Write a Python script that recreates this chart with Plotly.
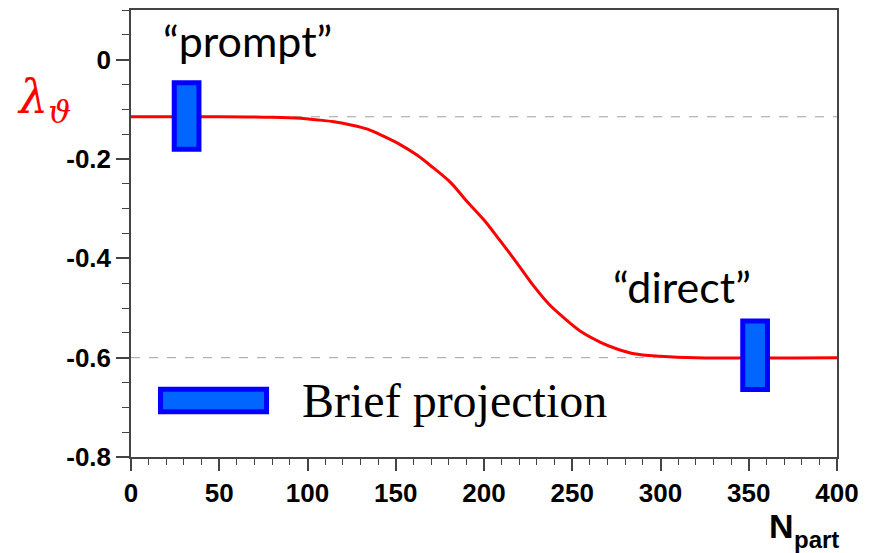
import plotly.graph_objects as go

# ---- data ----
npart = [0, 50, 80, 96, 105, 115, 124, 134, 143, 152, 162, 171, 181, 190, 200,
         209, 219, 228, 237, 247, 256, 266, 275, 285, 300, 320, 400]
lam = [-0.115, -0.115, -0.116, -0.118, -0.121, -0.125, -0.131, -0.140, -0.154,
       -0.170, -0.192, -0.217, -0.247, -0.284, -0.323, -0.364, -0.411, -0.455,
       -0.493, -0.525, -0.550, -0.569, -0.582, -0.592, -0.597, -0.600, -0.600]

ref_levels = [-0.115, -0.6]          # dashed reference lines
x_range = [0, 400]

box_labels = ["\u201cprompt\u201d", "\u201cdirect\u201d"]
box_x = [31.5, 353.6]                 # centre in Npart
box_halfw = [7.0, 7.0]
box_y = [-0.1135, -0.595]             # centre in lambda
box_halfh = [0.067, 0.069]

x_ticks = [0, 50, 100, 150, 200, 250, 300, 350, 400]
y_ticks = [0, -0.2, -0.4, -0.6, -0.8]
y_ticklabels = ["0", "-0.2", "-0.4", "-0.6", "-0.8"]

legend_text = "Brief projection"

BLUE_LINE = "#0000ff"
BLUE_FILL = "#0066ff"

fig = go.Figure()

for lvl in ref_levels:
    fig.add_trace(go.Scatter(x=x_range, y=[lvl, lvl], mode="lines",
                             line=dict(color="#a0a0a0", width=1, dash="dash"),
                             hoverinfo="skip", showlegend=False))

fig.add_trace(go.Scatter(x=npart, y=lam, mode="lines",
                         line=dict(color="#ff0000", width=3, shape="spline", smoothing=1.0),
                         showlegend=False))

shapes = []
for cx, hw, cy, hh in zip(box_x, box_halfw, box_y, box_halfh):
    shapes.append(dict(type="rect", xref="x", yref="y",
                       x0=cx - hw, x1=cx + hw, y0=cy - hh, y1=cy + hh,
                       line=dict(color=BLUE_LINE, width=5), fillcolor=BLUE_FILL,
                       layer="above"))
# legend key
shapes.append(dict(type="rect", xref="x", yref="y", x0=16.7, x1=76.8,
                   y0=-0.709, y1=-0.6637,
                   line=dict(color=BLUE_LINE, width=5), fillcolor=BLUE_FILL))

annotations = [
    dict(x=66.0, y=0.038, xref="x", yref="y", text=box_labels[0], showarrow=False,
         font=dict(family="Lato", size=43, color="black"), xanchor="center", yanchor="middle"),
    dict(x=312.0, y=-0.456, xref="x", yref="y", text=box_labels[1], showarrow=False,
         font=dict(family="Lato", size=43, color="black"), xanchor="center", yanchor="middle"),
    dict(x=95.5, y=-0.686, xref="x", yref="y", text=legend_text, showarrow=False,
         font=dict(family="Liberation Serif", size=48, color="black"),
         xanchor="left", yanchor="middle"),
    dict(x=-0.165, y=-0.083, xref="paper", yref="y", text="<i>\u03bb<sub>\u03d1</sub></i>",
         showarrow=False, font=dict(family="DejaVu Serif", size=46, color="#ff0000"),
         xanchor="left", yanchor="middle"),
    dict(x=0.9008, y=-0.1537, xref="paper", yref="paper", text="N", showarrow=False,
         font=dict(family="Liberation Sans", size=34, color="black", weight="bold"),
         xanchor="left", yanchor="middle"),
    dict(x=0.9363, y=-0.184, xref="paper", yref="paper", text="part", showarrow=False,
         font=dict(family="Liberation Sans", size=24, color="black", weight="bold"),
         xanchor="left", yanchor="middle"),
]

fig.update_layout(
    width=872, height=553,
    margin=dict(l=131, r=35, t=8, b=96),
    paper_bgcolor="white", plot_bgcolor="white",
    shapes=shapes, annotations=annotations,
    showlegend=False,
)

axis_common = dict(showgrid=False, zeroline=False, showline=True, mirror=True,
                   linecolor="#444444", linewidth=1.5, ticks="outside",
                   tickcolor="#444444", tickwidth=1.5,
                   tickfont=dict(family="Liberation Sans", size=26, color="black", weight="bold"))

fig.update_xaxes(range=x_range, tickvals=x_ticks, ticklen=12,
                 minor=dict(dtick=10, ticklen=6, ticks="outside", tickcolor="#444444", tickwidth=1.2),
                 **axis_common)
fig.update_yaxes(range=[-0.8, 0.1], tickvals=y_ticks, ticktext=y_ticklabels, ticklen=13,
                 minor=dict(dtick=0.05, tick0=0, ticklen=7, ticks="outside", tickcolor="#444444", tickwidth=1.2),
                 **axis_common)

fig.write_html("out.html")
